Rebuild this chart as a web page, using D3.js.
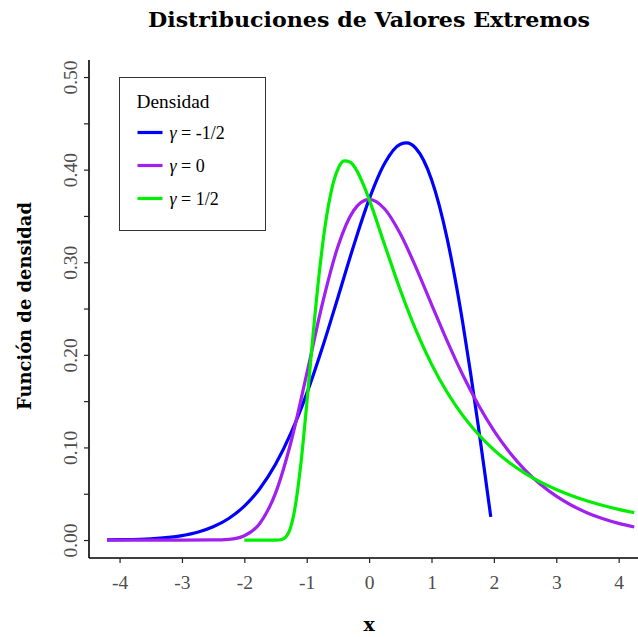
<!DOCTYPE html>
<html>
<head>
<meta charset="utf-8">
<script src="https://cdn.jsdelivr.net/npm/d3@7"></script>
<style>
  body { margin: 0; background: #fff; }
  text { font-family: "Liberation Serif", "DejaVu Serif", serif; }
</style>
</head>
<body>
<div id="chart"></div>
<script>
// densities (x, f(x))
const blueX  = [-4.2, -4, -3.5, -3, -2.75, -2.5, -2.25, -2, -1.75, -1.5, -1.25, -1, -0.75, -0.5, -0.25, 0, 0.25, 0.5, 0.6, 0.75, 1, 1.25, 1.375, 1.5, 1.625, 1.75, 1.85, 1.95];
const blueY  = [0.0002, 0.0004, 0.0014, 0.0048, 0.0084, 0.0143, 0.0233, 0.0366, 0.0557, 0.0818, 0.1159, 0.1581, 0.2076, 0.2620, 0.3173, 0.3679, 0.4069, 0.4274, 0.4288, 0.4229, 0.3894, 0.3258, 0.2834, 0.2349, 0.1810, 0.1231, 0.0746, 0.0250];

const purpleX = [-4.2, -3.5, -3, -2.5, -2.25, -2, -1.75, -1.5, -1.25, -1, -0.75, -0.5, -0.25, 0, 0.25, 0.5, 0.75, 1, 1.25, 1.5, 1.75, 2, 2.25, 2.5, 2.75, 3, 3.25, 3.5, 3.75, 4, 4.25];
const purpleY = [0, 0, 0, 0.0001, 0.0007, 0.0046, 0.0182, 0.0507, 0.1064, 0.1794, 0.2549, 0.3170, 0.3556, 0.3679, 0.3575, 0.3307, 0.2945, 0.2546, 0.2151, 0.1785, 0.1461, 0.1182, 0.0949, 0.0756, 0.0600, 0.0474, 0.0373, 0.0293, 0.0230, 0.0180, 0.0141];

const greenX = [-2, -1.75, -1.5, -1.4, -1.3, -1.25, -1.2, -1.1, -1, -0.9, -0.8, -0.7, -0.6, -0.5, -0.4, -0.3, -0.2, -0.1, 0, 0.25, 0.5, 0.75, 1, 1.25, 1.5, 1.75, 2, 2.25, 2.5, 2.75, 3, 3.25, 3.5, 3.75, 4, 4.25];
const greenY = [0, 0, 0, 0.0006, 0.0067, 0.0155, 0.0302, 0.0787, 0.1465, 0.2205, 0.2879, 0.3415, 0.3787, 0.4006, 0.4094, 0.4080, 0.3992, 0.3851, 0.3679, 0.3187, 0.2700, 0.2267, 0.1900, 0.1596, 0.1346, 0.1142, 0.0974, 0.0835, 0.0721, 0.0625, 0.0545, 0.0478, 0.0421, 0.0373, 0.0331, 0.0296];

const seriesValues = ["-1/2", "0", "1/2"];
const seriesColors = ["#0000ff", "#a020f0", "#00ee00"];
const xTicks = [-4, -3, -2, -1, 0, 1, 2, 3, 4];
const yTicks = [0, 0.05, 0.1, 0.15, 0.2, 0.25, 0.3, 0.35, 0.4, 0.45, 0.5];

const width = 638, height = 637;
const margin = { top: 60, right: 0, bottom: 79, left: 89 };

const svg = d3.select('#chart').append('svg')
    .attr('width', width)
    .attr('height', height);

const x = d3.scaleLinear().domain([-4.49, 4.31]).range([margin.left, width - margin.right]);
const y = d3.scaleLinear().domain([-0.0194, 0.5184]).range([height - margin.bottom, margin.top]);

svg.append('defs').append('clipPath').attr('id', 'clip')
    .append('rect')
    .attr('x', margin.left).attr('y', margin.top)
    .attr('width', width - margin.left - margin.right)
    .attr('height', height - margin.top - margin.bottom);

// curves
const series = [
    { xs: blueX, ys: blueY },
    { xs: purpleX, ys: purpleY },
    { xs: greenX, ys: greenY }
];

const line = d3.line()
    .x(d => x(d[0]))
    .y(d => y(d[1]))
    .curve(d3.curveMonotoneX);

svg.append('g').attr('clip-path', 'url(#clip)')
    .selectAll('path')
    .data(series)
    .enter()
    .append('path')
    .attr('d', s => line(s.xs.map((v, i) => [v, s.ys[i]])))
    .attr('fill', 'none')
    .attr('stroke', (s, i) => seriesColors[i])
    .attr('stroke-width', 3.2)
    .attr('stroke-linejoin', 'round');

// axes
const xAxis = svg.append('g')
    .attr('transform', `translate(0,${height - margin.bottom})`)
    .call(d3.axisBottom(x).tickValues(xTicks).tickSize(5).tickPadding(12)
        .tickFormat(d => String(d)));

const yAxis = svg.append('g')
    .attr('transform', `translate(${margin.left},0)`)
    .call(d3.axisLeft(y).tickValues(yTicks).tickSize(5).tickPadding(12)
        .tickFormat(d => (Math.round(d * 100) % 10 === 0) ? d.toFixed(2) : ''));

[xAxis, yAxis].forEach(g => {
    g.select('.domain').attr('stroke', '#000').attr('stroke-width', 1.6);
    g.selectAll('.tick line').attr('stroke', '#222').attr('stroke-width', 1.2);
    g.selectAll('.tick text')
        .style('font-family', '"Liberation Serif", serif')
        .style('font-size', '19.5px')
        .attr('fill', '#4d4d4d');
});

// y-axis domain extends to top, x-axis to the right edge
xAxis.select('.domain').attr('d', `M${margin.left},0H${width}`);
yAxis.select('.domain').attr('d', `M0,${margin.top}V${height - margin.bottom}`);

yAxis.selectAll('.tick text')
    .attr('transform', 'rotate(-90)')
    .attr('text-anchor', 'middle')
    .attr('x', 0)
    .attr('dy', 0)
    .attr('y', -12);

// title and axis labels
svg.append('text')
    .attr('x', 369)
    .attr('y', 27)
    .attr('text-anchor', 'middle')
    .attr('textLength', 442)
    .attr('lengthAdjust', 'spacingAndGlyphs')
    .style('font-family', '"DejaVu Serif", serif')
    .style('font-size', '21px')
    .style('font-weight', 'bold')
    .text('Distribuciones de Valores Extremos');

svg.append('text')
    .attr('transform', 'translate(31,306) rotate(-90)')
    .attr('text-anchor', 'middle')
    .attr('textLength', 208)
    .attr('lengthAdjust', 'spacingAndGlyphs')
    .style('font-family', '"DejaVu Serif", serif')
    .style('font-size', '18px')
    .style('font-weight', 'bold')
    .text('Función de densidad');

svg.append('text')
    .attr('x', x(0))
    .attr('y', 631)
    .attr('text-anchor', 'middle')
    .style('font-family', '"DejaVu Serif", serif')
    .style('font-size', '19px')
    .style('font-weight', 'bold')
    .text('x');

// legend
const legend = svg.append('g').attr('transform', 'translate(119.5,77.5)');
legend.append('rect')
    .attr('width', 146)
    .attr('height', 153)
    .attr('fill', '#fff')
    .attr('stroke', '#333')
    .attr('stroke-width', 1);

legend.append('text')
    .attr('x', 17)
    .attr('y', 30)
    .attr('textLength', 73)
    .attr('lengthAdjust', 'spacingAndGlyphs')
    .style('font-size', '18px')
    .text('Densidad');

const items = legend.selectAll('.item')
    .data(seriesValues)
    .enter()
    .append('g')
    .attr('transform', (d, i) => `translate(18,${55 + i * 33})`);

items.append('line')
    .attr('x1', 0).attr('x2', 25)
    .attr('stroke', (d, i) => seriesColors[i])
    .attr('stroke-width', 3.2);

const labels = items.append('text')
    .attr('x', 32)
    .attr('y', 6)
    .style('font-size', '18px');
labels.append('tspan').style('font-style', 'italic').text('\u03b3');
labels.append('tspan').text(d => ' = ' + d);
</script>
</body>
</html>
